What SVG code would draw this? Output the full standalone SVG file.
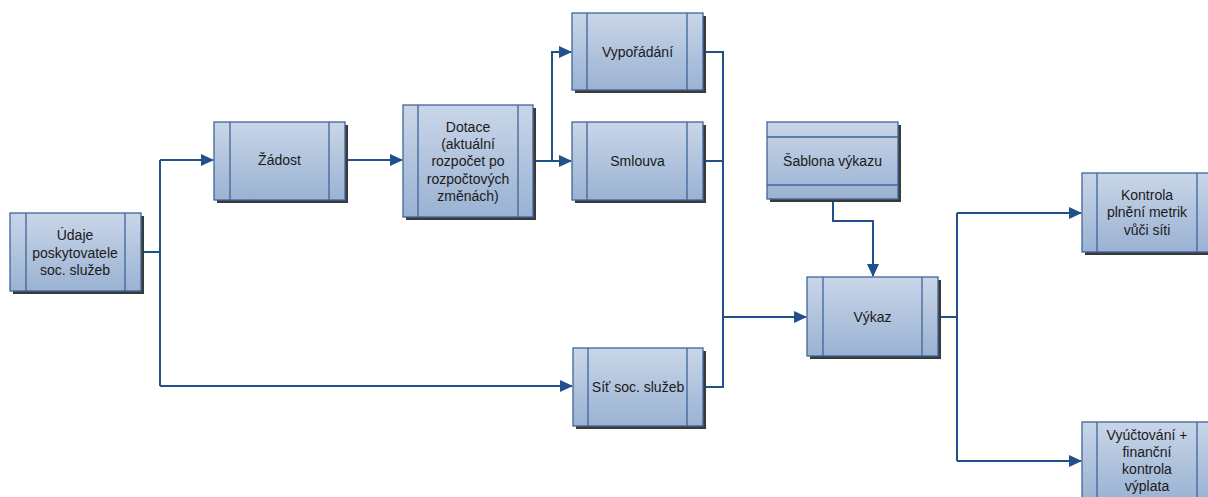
<svg xmlns="http://www.w3.org/2000/svg" width="1208" height="497" viewBox="0 0 1208 497">
<defs>
<linearGradient id="g" x1="0" y1="0" x2="0" y2="1">
<stop offset="0" stop-color="#c9d6e8"/>
<stop offset="1" stop-color="#9ab2d3"/>
</linearGradient>
<marker id="a" markerUnits="userSpaceOnUse" markerWidth="13" markerHeight="12" refX="12" refY="6" orient="auto">
<path d="M0,0 L13,6 L0,12 z" fill="#22508a"/>
</marker>
<style>
.sh{fill:#3a3a3a}
.bx{fill:url(#g);stroke:#3f6698;stroke-width:1.3}
.ln{stroke:#3f6698;stroke-width:1.3;fill:none}
.c{stroke:#22508a;stroke-width:2;fill:none}
.ar{marker-end:url(#a)}
text{font-family:"Liberation Sans",Arial,sans-serif;font-size:14px;fill:#1a1a1a;text-anchor:middle}
</style>
</defs>
<rect width="1208" height="497" fill="#ffffff"/>

<g id="connectors">
<path class="c" d="M141,252 H160 M160,160 V386"/>
<path class="c ar" d="M160,160 H213"/>
<path class="c ar" d="M160,386 H572"/>
<path class="c ar" d="M345,160 H402"/>
<path class="c ar" d="M533,161 H571"/>
<path class="c ar" d="M552,161 V52 H571"/>
<path class="c" d="M703,52 H723 V387 H703 M703,161 H723"/>
<path class="c ar" d="M723,317 H806"/>
<path class="c ar" d="M833,199 V221 H873 V276"/>
<path class="c" d="M938,317 H957 M957,213 V461"/>
<path class="c ar" d="M957,213 H1081"/>
<path class="c ar" d="M957,461 H1081"/>
</g>

<g id="udaje">
<rect class="sh" x="13" y="216" width="131" height="78"/>
<rect class="bx" x="10" y="213" width="131" height="78"/>
<path class="ln" d="M26,213 V291 M125,213 V291"/>
<text x="75" y="240">Údaje</text>
<text x="75" y="257.5">poskytovatele</text>
<text x="75" y="275">soc. služeb</text>
</g>

<g id="zadost">
<rect class="sh" x="217" y="125" width="131" height="78"/>
<rect class="bx" x="214" y="122" width="131" height="78"/>
<path class="ln" d="M230,122 V200 M329,122 V200"/>
<text x="279.5" y="165">Žádost</text>
</g>

<g id="dotace">
<rect class="sh" x="406" y="108" width="130" height="112"/>
<rect class="bx" x="403" y="105" width="130" height="112"/>
<path class="ln" d="M418,105 V217 M518,105 V217"/>
<text x="468" y="131.5">Dotace</text>
<text x="468" y="148.5">(aktuální</text>
<text x="468" y="166">rozpočet po</text>
<text x="468" y="183.5">rozpočtových</text>
<text x="468" y="201">změnách)</text>
</g>

<g id="vyporadani">
<rect class="sh" x="575" y="16" width="131" height="77"/>
<rect class="bx" x="572" y="13" width="131" height="77"/>
<path class="ln" d="M587,13 V90 M687,13 V90"/>
<text x="637.5" y="56.5">Vypořádání</text>
</g>

<g id="smlouva">
<rect class="sh" x="575" y="125" width="131" height="78"/>
<rect class="bx" x="572" y="122" width="131" height="78"/>
<path class="ln" d="M587,122 V200 M687,122 V200"/>
<text x="637.5" y="165.5">Smlouva</text>
</g>

<g id="sit">
<rect class="sh" x="576" y="351" width="130" height="78"/>
<rect class="bx" x="573" y="348" width="130" height="78"/>
<path class="ln" d="M588,348 V426 M687,348 V426"/>
<text x="638" y="392">Síť soc. služeb</text>
</g>

<g id="sablona">
<rect class="sh" x="770" y="125" width="131" height="77"/>
<rect class="bx" x="767" y="122" width="131" height="77"/>
<path class="ln" d="M767,137 H898 M767,185 H898"/>
<text x="832.5" y="166">Šablona výkazu</text>
</g>

<g id="vykaz">
<rect class="sh" x="810" y="280" width="131" height="79"/>
<rect class="bx" x="807" y="277" width="131" height="79"/>
<path class="ln" d="M823,277 V356 M922,277 V356"/>
<text x="872.5" y="321.5">Výkaz</text>
</g>

<g id="kontrola">
<rect class="sh" x="1085" y="176" width="131" height="79"/>
<rect class="bx" x="1082" y="173" width="131" height="79"/>
<path class="ln" d="M1097,173 V252 M1197,173 V252"/>
<text x="1147" y="199.5">Kontrola</text>
<text x="1147" y="217">plnění metrik</text>
<text x="1147" y="234.5">vůči síti</text>
</g>

<g id="vyuctovani">
<rect class="sh" x="1085" y="425" width="131" height="79"/>
<rect class="bx" x="1082" y="422" width="131" height="79"/>
<path class="ln" d="M1097,422 V501 M1197,422 V501"/>
<text x="1147" y="439.5">Vyúčtování +</text>
<text x="1147" y="456.5">finanční</text>
<text x="1147" y="473.5">kontrola</text>
<text x="1147" y="490.5">výplata</text>
</g>
</svg>
